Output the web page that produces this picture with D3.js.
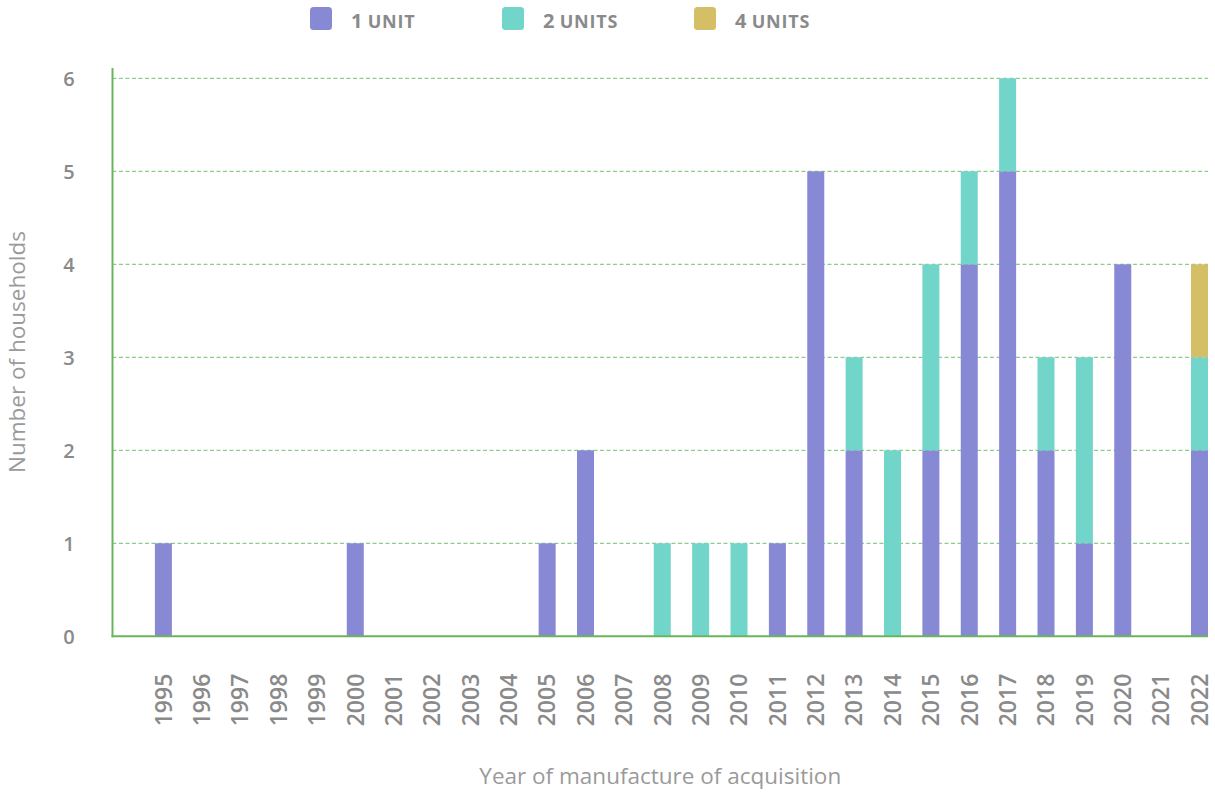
<!DOCTYPE html>
<html>
<head>
<meta charset="utf-8">
<script src="https://cdn.jsdelivr.net/npm/d3@7"></script>
<style>
  html, body { margin: 0; padding: 0; background: #fff; }
  svg { display: block; font-family: "Open Sans", sans-serif; }
</style>
</head>
<body>
<svg id="chart" width="1215" height="793"></svg>
<script>
// ---- data ----
const years = [1995,1996,1997,1998,1999,2000,2001,2002,2003,2004,2005,2006,2007,2008,2009,2010,2011,2012,2013,2014,2015,2016,2017,2018,2019,2020,2021,2022];
const oneUnit   = [1,0,0,0,0,1,0,0,0,0,1,2,0,0,0,0,1,5,2,0,2,4,5,2,1,4,0,2];
const twoUnits  = [0,0,0,0,0,0,0,0,0,0,0,0,0,1,1,1,0,0,1,2,2,1,1,1,2,0,0,1];
const fourUnits = [0,0,0,0,0,0,0,0,0,0,0,0,0,0,0,0,0,0,0,0,0,0,0,0,0,0,0,1];
const seriesNames = ["1 UNIT", "2 UNITS", "4 UNITS"];
const yTicks = [0,1,2,3,4,5,6];
const yTitle = "Number of households";
const xTitle = "Year of manufacture of acquisition";

// ---- styles ----
const colors = ["#8789d5", "#72d5ca", "#d4be66"];
const textColor = "#8a8a8a";
const axisGreen = "#6ab55c";
const gridGreen = "#72c070";

const svg = d3.select("#chart");

const plotLeft = 112.5, plotRight = 1208, plotTop = 78.3, plotBottom = 636.3;

const x = d3.scalePoint().domain(years).range([163.4, 1199.5]);
const y = d3.scaleLinear().domain([0, 6]).range([plotBottom, plotTop]);
const barW = 17;

const table = years.map((yr, i) => ({year: yr, s0: oneUnit[i], s1: twoUnits[i], s2: fourUnits[i]}));
const stack = d3.stack().keys(["s0","s1","s2"]);
const stacked = stack(table);

// grid
const gridG = svg.append("g");
gridG.selectAll("line").data(yTicks.filter(t => t > 0)).join("line")
  .attr("x1", plotLeft).attr("x2", plotRight)
  .attr("y1", d => y(d)).attr("y2", d => y(d))
  .attr("stroke", gridGreen).attr("stroke-width", 1)
  .attr("stroke-dasharray", "4,2.5");

// bars
svg.append("g").selectAll("g").data(stacked).join("g")
  .attr("fill", (d, i) => colors[i])
  .selectAll("rect").data(d => d).join("rect")
  .attr("x", d => x(d.data.year) - barW / 2)
  .attr("width", barW)
  .attr("y", d => y(d[1]))
  .attr("height", d => Math.max(0, y(d[0]) - y(d[1])));

// axes lines
svg.append("line").attr("x1", plotLeft).attr("x2", plotLeft).attr("y1", 68).attr("y2", plotBottom + 1)
  .attr("stroke", axisGreen).attr("stroke-width", 2);
svg.append("line").attr("x1", plotLeft - 1).attr("x2", plotRight).attr("y1", plotBottom).attr("y2", plotBottom)
  .attr("stroke", axisGreen).attr("stroke-width", 2);

// y tick labels
svg.append("g").selectAll("text").data(yTicks).join("text")
  .attr("x", 69).attr("y", d => y(d))
  .attr("dy", "0.36em")
  .attr("text-anchor", "middle")
  .attr("fill", textColor)
  .attr("font-size", 20).attr("font-weight", 600)
  .text(d => d);

// x tick labels
svg.append("g").selectAll("text").data(years).join("text")
  .attr("transform", d => `translate(${x(d)},700) rotate(-90)`)
  .attr("text-anchor", "middle")
  .attr("dy", "0.36em")
  .attr("fill", textColor)
  .attr("font-size", 23).attr("font-weight", 600)
  .text(d => d);

// axis titles
svg.append("text")
  .attr("transform", "translate(25,352) rotate(-90)")
  .attr("text-anchor", "middle")
  .attr("fill", "#9a9a9a")
  .attr("font-size", 22.5).attr("font-weight", 400)
  .text(yTitle);

svg.append("text")
  .attr("x", (plotLeft + plotRight) / 2).attr("y", 784)
  .attr("text-anchor", "middle")
  .attr("fill", "#9a9a9a")
  .attr("font-size", 22.5).attr("font-weight", 400)
  .text(xTitle);

// legend
const legend = svg.append("g").selectAll("g").data(seriesNames).join("g")
  .attr("transform", (d, i) => `translate(${310 + i * 192},0)`);
legend.append("rect")
  .attr("x", 0).attr("y", 7).attr("width", 22).attr("height", 23).attr("rx", 3.5)
  .attr("fill", (d, i) => colors[i]);
const lt = legend.append("text")
  .attr("x", 41).attr("y", 28)
  .attr("fill", textColor).attr("font-weight", 700);
lt.append("tspan").attr("font-size", 20).text(d => d.split(" ")[0] + " ");
lt.append("tspan").attr("font-size", 18).attr("letter-spacing", 0.8).text(d => d.split(" ")[1]);
</script>
</body>
</html>
